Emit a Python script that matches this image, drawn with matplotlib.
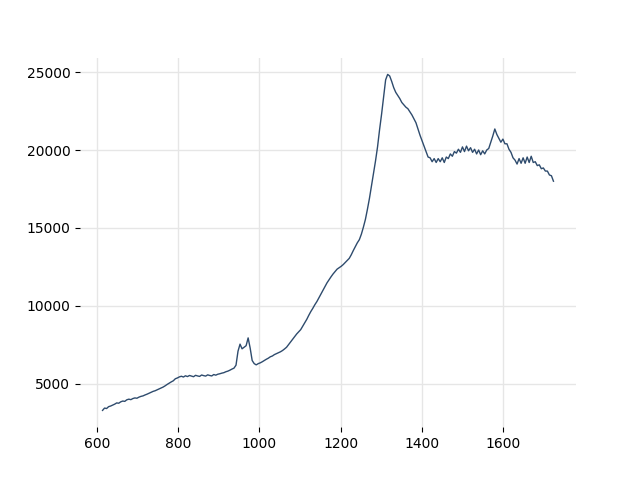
"""
spectrum-like trace, read off the reference picture
"""
import numpy as np
import matplotlib
matplotlib.use('Agg')
import matplotlib.pyplot as plt

x = np.linspace(614, 1724, 224)
y = [3300, 3450, 3420, 3540, 3580, 3640, 3700, 3780, 3760, 3850,
     3900, 3880, 3980, 4020, 3990, 4060, 4100, 4080, 4150, 4200,
     4230, 4290, 4340, 4400, 4460, 4520, 4560, 4620, 4680, 4740,
     4800, 4880, 4970, 5050, 5130, 5200, 5330, 5380, 5450, 5490,
     5440, 5520, 5470, 5540, 5500, 5460, 5550, 5510, 5480, 5570,
     5530, 5500, 5580, 5540, 5510, 5600, 5560, 5620, 5650, 5690,
     5720, 5780, 5820, 5880, 5950, 6010, 6200, 7100, 7550, 7250,
     7350, 7450, 7950, 7300, 6500, 6300, 6220, 6300, 6350, 6420,
     6500, 6580, 6650, 6740, 6790, 6880, 6940, 7000, 7060, 7140,
     7240, 7350, 7520, 7700, 7860, 8020, 8200, 8340, 8480, 8700,
     8920, 9140, 9400, 9640, 9850, 10080, 10280, 10520, 10760, 11000,
     11250, 11480, 11680, 11870, 12050, 12200, 12360, 12450, 12540, 12650,
     12780, 12900, 13050, 13280, 13550, 13800, 14050, 14250, 14600, 15050,
     15550, 16200, 16900, 17700, 18500, 19300, 20200, 21300, 22300, 23400,
     24500, 24850, 24750, 24400, 24000, 23700, 23500, 23300, 23050, 22900,
     22750, 22650, 22450, 22250, 22000, 21750, 21350, 20950, 20600, 20250,
     19900, 19550, 19500, 19250, 19450, 19200, 19450, 19250, 19500, 19200,
     19550, 19450, 19750, 19600, 19900, 19800, 20050, 19850, 20200, 19900,
     20250, 19950, 20150, 19850, 20050, 19750, 20000, 19700, 19950, 19750,
     20000, 20100, 20500, 20900, 21350, 21000, 20750, 20500, 20700, 20400,
     20400, 20050, 19850, 19500, 19350, 19100, 19450, 19150, 19500, 19150,
     19550, 19200, 19600, 19200, 19250, 19000, 19050, 18800, 18850, 18650,
     18650, 18400, 18350, 18000]

# --- Plot
fig, ax = plt.subplots(1, 1, figsize=(6.4, 4.8), dpi=100)
ax.plot(x, y, '-', color='#2e4b6d', linewidth=1.0)
ax.grid(True, color='#e6e6e6', linewidth=1.0)
ax.set_axisbelow(True)
for s in ax.spines.values():
    s.set_visible(False)
fig.savefig('out.png')
